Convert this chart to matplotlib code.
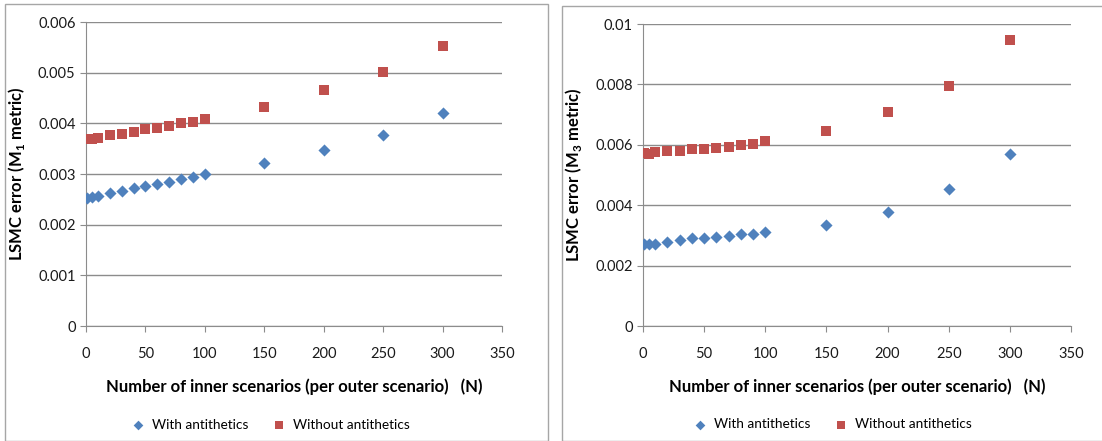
import matplotlib
matplotlib.use("Agg")
import matplotlib.pyplot as plt
from matplotlib.patches import Rectangle
from matplotlib.ticker import FuncFormatter, MultipleLocator

plt.rcParams["font.family"] = ["Lato", "DejaVu Sans"]
plt.rcParams["mathtext.fontset"] = "custom"
plt.rcParams["mathtext.rm"] = "Lato"
plt.rcParams["mathtext.bf"] = "Lato:bold"

# ---------------------------------------------------------------------------
# Data
# ---------------------------------------------------------------------------
n_inner = [1, 5, 10, 20, 30, 40, 50, 60, 70, 80, 90, 100, 150, 200, 250, 300]

m1_with = [0.00252, 0.00254, 0.00257, 0.00262, 0.00267, 0.00272, 0.00276, 0.00280,
           0.00285, 0.00290, 0.00295, 0.00300, 0.00321, 0.00347, 0.00377, 0.00421]
m1_without = [0.00370, 0.00370, 0.00372, 0.00377, 0.00379, 0.00383, 0.00388, 0.00390,
              0.00395, 0.00400, 0.00403, 0.00409, 0.00433, 0.00466, 0.00502, 0.00552]

m3_with = [0.00273, 0.00273, 0.00273, 0.00278, 0.00285, 0.00292, 0.00292, 0.00295,
           0.00299, 0.00304, 0.00306, 0.00310, 0.00335, 0.00378, 0.00453, 0.00569]
m3_without = [0.00573, 0.00570, 0.00577, 0.00578, 0.00579, 0.00587, 0.00587, 0.00591,
              0.00594, 0.00600, 0.00602, 0.00612, 0.00646, 0.00709, 0.00796, 0.00948]

BLUE = "#4F81BD"
RED = "#C0504D"
GRID = "#8c8c8c"

W, H = 1102, 441
fig = plt.figure(figsize=(W / 100, H / 100), dpi=100)

# panel frames
fig.patches.append(Rectangle((5 / W, 0), 543 / W, 1 - 4 / H, transform=fig.transFigure,
                             fill=False, edgecolor="#a6a6a6", lw=1.0))
fig.patches.append(Rectangle((562 / W, 0), 545 / W, 1 - 6 / H, transform=fig.transFigure,
                             fill=False, edgecolor="#a6a6a6", lw=1.0))


def fmt(v, _):
    return "0" if abs(v) < 1e-12 else f"{v:g}"


def draw(ax, y_with, y_without, ymax, ystep, sub):
    ax.scatter(n_inner, y_with, marker="D", s=38, color=BLUE, lw=0, zorder=3,
               label="With antithetics")
    ax.scatter(n_inner, y_without, marker="s", s=42, color=RED, lw=0, zorder=3,
               label="Without antithetics")
    ax.set_xlim(0, 350)
    ax.set_ylim(0, ymax)
    ax.xaxis.set_major_locator(MultipleLocator(50))
    ax.yaxis.set_major_locator(MultipleLocator(ystep))
    ax.yaxis.set_major_formatter(FuncFormatter(fmt))
    ax.grid(axis="y", color=GRID, lw=1.0)
    ax.set_axisbelow(True)
    for s in ("top", "right"):
        ax.spines[s].set_visible(False)
    for s in ("left", "bottom"):
        ax.spines[s].set_color(GRID)
    ax.tick_params(axis="both", colors=GRID, length=4, labelsize=10.5,
                   labelcolor="#1a1a1a")
    ax.tick_params(axis="x", pad=11)
    ax.set_xlabel("Number of inner scenarios (per outer scenario)   (N)",
                  fontsize=12, fontweight="bold", labelpad=13)
    ax.set_ylabel(r"LSMC error (M$_{\mathbf{" + sub + r"}}$ metric)",
                  fontsize=12, fontweight="bold", labelpad=8)
    ax.legend(loc="center", bbox_to_anchor=(0.435, -0.325), ncol=2, frameon=False,
              fontsize=9.8, handletextpad=0.05, columnspacing=1.2, markerscale=0.8)


ax1 = fig.add_axes([86 / W, 1 - 326 / H, 416 / W, 304 / H])
draw(ax1, m1_with, m1_without, 0.006, 0.001, "1")

ax2 = fig.add_axes([643 / W, 1 - 326 / H, 428 / W, 302 / H])
draw(ax2, m3_with, m3_without, 0.01, 0.002, "3")

fig.savefig("out.png", dpi=100)
